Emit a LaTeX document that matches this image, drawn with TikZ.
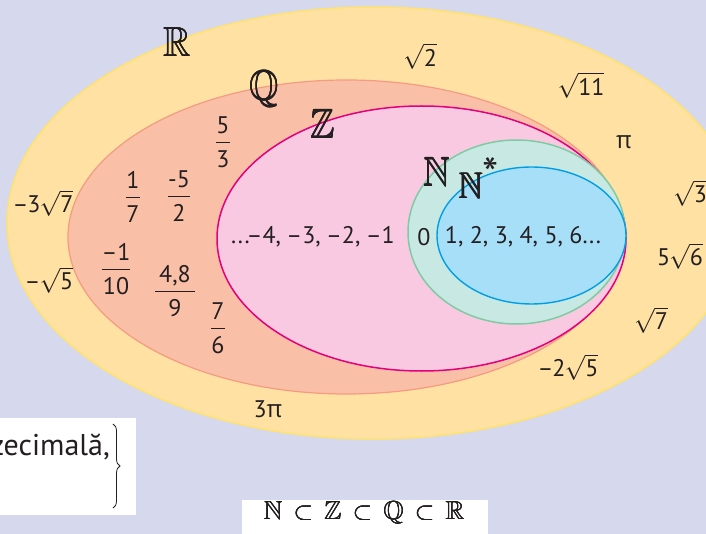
\documentclass[tikz,border=0pt]{standalone}
\usepackage{amsmath,amssymb}
\usepackage{graphicx}
\usepackage{fontspec}
\setmainfont{PT Sans}
\newfontfamily\grk{Open Sans}
\usetikzlibrary{decorations.pathreplacing}
\definecolor{bg}{HTML}{D6D8EE}
\definecolor{rfill}{HTML}{FFE1A3}
\definecolor{rline}{HTML}{FFE36E}
\definecolor{qfill}{HTML}{F9BFA7}
\definecolor{qline}{HTML}{F59B82}
\definecolor{zfill}{HTML}{F8C9E0}
\definecolor{zline}{HTML}{E4007C}
\definecolor{nfill}{HTML}{C8E8E4}
\definecolor{nline}{HTML}{7FCBA3}
\definecolor{sfill}{HTML}{A8DFF8}
\definecolor{sline}{HTML}{009FE3}
\definecolor{ink}{HTML}{231F20}
\newlength\thkd
\newcommand\thk[2]{\setlength\thkd{#1}\makebox[0pt][l]{#2}\makebox[0pt][l]{\kern\thkd #2}\makebox[0pt][l]{\raisebox{\thkd}{#2}}\kern\thkd\raisebox{\thkd}{#2}}
\newcommand\myfr[2]{{\setlength\arrayrulewidth{1pt}\begin{tabular}{@{}c@{}}#1\\\hline\rule{0pt}{25pt}#2\end{tabular}}}
\newcommand\rt[1]{$\sqrt{\text{#1}}$}
\newcommand\bb[2]{\fontsize{#1}{#1}\selectfont\scalebox{0.9}[1]{\thk{0.35pt}{$\mathbb{#2}$}}}
\newcommand\bs[1]{\thk{0.25pt}{$\mathbb{#1}$}}
\newcommand\sub{\hspace{11pt}\thk{0.2pt}{$\subset$}\hspace{11pt}}
\tikzset{
  setR/.style={fill=rfill,draw=rline,line width=1.5pt},
  setQ/.style={fill=qfill,draw=qline,line width=1.2pt},
  setZ/.style={fill=zfill,draw=zline,line width=1.5pt},
  setN/.style={fill=nfill,draw=nline,line width=1.5pt},
  setS/.style={fill=sfill,draw=sline,line width=1.4pt},
  num/.style={inner sep=0pt,text=ink,font=\fontsize{24}{28}\selectfont},
  big/.style={inner sep=0pt,text=ink},
  whitebox/.style={fill=white,draw=none}
}
\begin{document}
\begin{tikzpicture}[x=1pt,y=-1pt]
\useasboundingbox (0,0) rectangle (706,534);
\fill[bg] (0,0) rectangle (706,534);
% sets
\path[setR] (373,223) ellipse [x radius=366, y radius=216];
\path[setQ] (346.5,237) ellipse [x radius=278.5, y radius=157];
\path[setZ] (421.5,238.5) ellipse [x radius=204.5, y radius=132.5];
\path[setN] (516.5,232) ellipse [x radius=108.5, y radius=92];
\path[setS] (531.5,235.5) ellipse [x radius=94.5, y radius=68.5];
% set names
\node[big] (lR) at (177,42) {\bb{42}{R}};
\node[big] (lQ) at (264,89) {\bb{42}{Q}};
\node[big] (lZ) at (323,124) {\bb{41}{Z}};
\node[big] (lN) at (437,172) {\bb{41}{N}};
\node[big] (lS) at (471,186) {\bb{37}{N}};
\node[big,font=\fontsize{46}{46}\selectfont] (star) at (491,174) {*};
% irrationals
\node[num] (r2) at (420,56) {\rt{2}};
\node[num] (r11) at (581,85) {\rt{11}};
\node[num] (pi) at (624,142) {{\grk π}};
\node[num] (r3) at (690,193) {\rt{3}};
\node[num] (r56) at (680,256) {5\kern-1pt\rt{6}};
\node[num] (r7) at (651,320) {\rt{7}};
\node[num] (m2r5) at (568,367) {–\kern-1pt2\kern-1pt\rt{5}};
\node[num] (tpi) at (268,409) {3{\grk π}};
\node[num] (m3r7) at (43,203) {–\kern-1pt3\kern-1pt\rt{7}};
\node[num] (mr5) at (49,280) {–\kern-1pt\rt{5}};
% rationals
\node[num] (f17) at (133,200) {\myfr{1}{7}};
\node[num] (f52) at (179,199) {\myfr{-5}{2}};
\node[num] (f53) at (223,145) {\myfr{5}{3}};
\node[num] (f110) at (116,272) {\myfr{–1}{10}};
\node[num] (f489) at (175,294) {\myfr{\,4,8\,}{9}};
\node[num] (f76) at (218,331) {\myfr{7}{6}};
% integers and naturals
\node[num] (neg) at (313,237) {...–4,\kern-1pt{} –3,\kern-1pt{} –2,\kern-1pt{} –1};
\node[num] (zero) at (424,237) {0};
\node[num] (pos) at (523,237) {1, 2, 3, 4, 5, 6...};
% bottom left box
\path[whitebox] (0,418) rectangle (136,515);
\node[num,anchor=base east,font=\fontsize{30}{34}\selectfont] (dec) at (110,455) {zecimală,};
\coordinate (bt) at (113,424);
\coordinate (bb) at (113,508);
\draw[ink,line width=0.8pt,decorate,decoration={brace,amplitude=7pt}] (bt) -- (bb);
% bottom formula
\path[whitebox] (242,500) rectangle (488,534);
\node[big] (incl) at (364,513) {\fontsize{26}{26}\selectfont\bs{N}\sub\bs{Z}\sub\bs{Q}\sub\bs{R}};
\end{tikzpicture}
\end{document}
